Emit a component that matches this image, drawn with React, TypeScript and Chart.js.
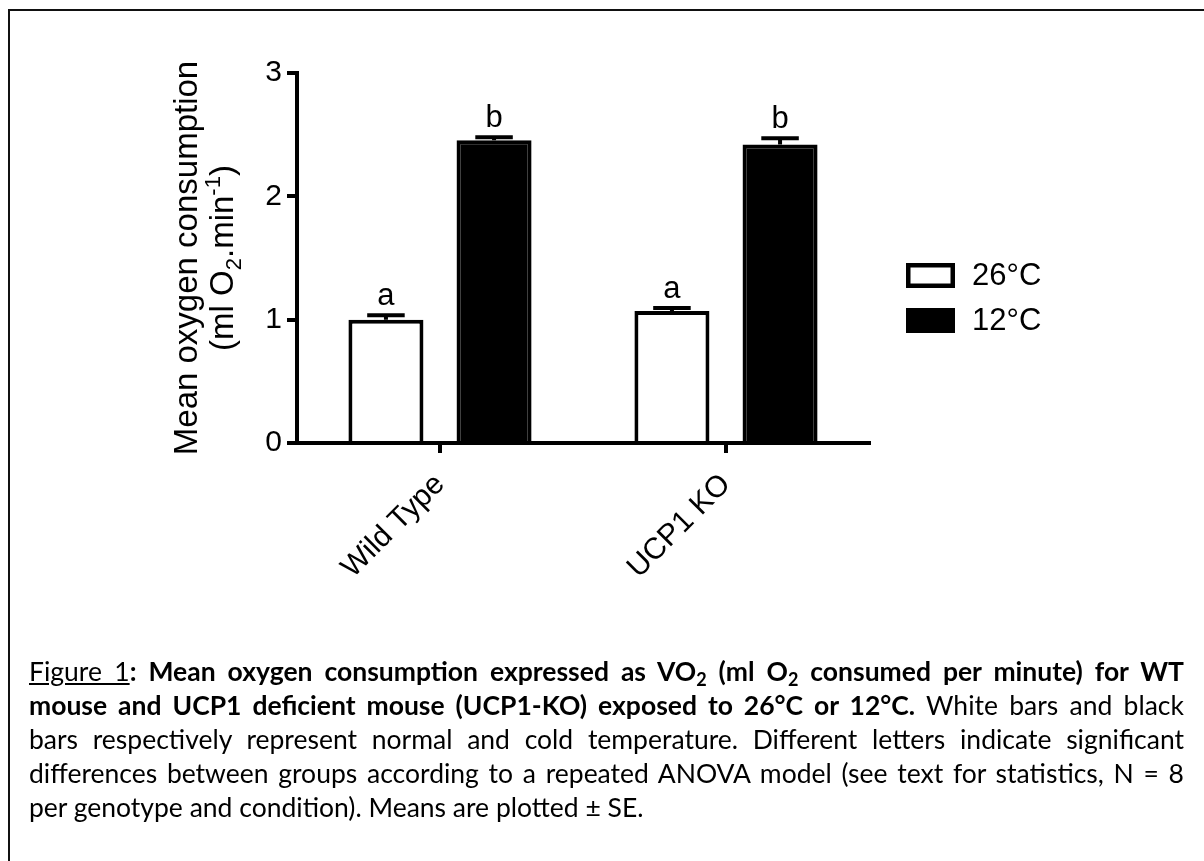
import React, { useEffect, useRef } from "react";
import { Chart, registerables } from "chart.js";

Chart.register(...registerables);

// ---- data ----
const categories = ["Wild Type", "UCP1 KO"];
const seriesLabels = ["26°C", "12°C"];
const warmMeans = [1.0, 1.07];
const coldMeans = [2.455, 2.42];
const warmSE = [0.035, 0.025];
const coldSE = [0.025, 0.05];
const warmLetters = ["a", "a"];
const coldLetters = ["b", "b"];
const yMin = 0;
const yMax = 3;
const yStep = 1;
const yTitleLine1 = "Mean oxygen consumption";
const yTitleLine2 = [
  { t: "(ml O", k: "n" },
  { t: "2", k: "sub" },
  { t: ".min", k: "n" },
  { t: "-1", k: "sup" },
  { t: ")", k: "n" },
];

const FONT = "'Liberation Sans', Arial, Helvetica, sans-serif";
const LW = 4;

const annotPlugin = {
  id: "annot",
  afterDatasetsDraw(chart: any) {
    const ctx = chart.ctx;
    const ys = chart.scales.y;
    chart.data.datasets.forEach((ds: any, i: number) => {
      const meta = chart.getDatasetMeta(i);
      meta.data.forEach((bar: any, j: number) => {
        const v = ds.data[j];
        const se = ds.se[j];
        const x = bar.x;
        const w = bar.width;
        const yv = ys.getPixelForValue(v);
        const yt = ys.getPixelForValue(v + se);
        ctx.save();
        ctx.strokeStyle = "#000";
        ctx.lineWidth = LW;
        ctx.beginPath();
        ctx.moveTo(x, yv);
        ctx.lineTo(x, yt);
        ctx.moveTo(x - w / 4, yt);
        ctx.lineTo(x + w / 4, yt);
        ctx.stroke();
        ctx.fillStyle = "#000";
        ctx.font = `31px ${FONT}`;
        ctx.textAlign = "center";
        ctx.textBaseline = "alphabetic";
        ctx.fillText(ds.letters[j], x, yt - 10);
        ctx.restore();
      });
    });
  },
  afterDraw(chart: any) {
    const ctx = chart.ctx;
    const area = chart.chartArea;
    // legend
    chart.data.datasets.forEach((ds: any, i: number) => {
      const bx = 906;
      const by = 263 + i * 45;
      const bw = 49;
      const bh = 25;
      ctx.save();
      if (ds.backgroundColor === "#000") {
        ctx.fillStyle = "#000";
        ctx.fillRect(bx, by, bw, bh);
      } else {
        ctx.fillStyle = "#fff";
        ctx.fillRect(bx, by, bw, bh);
        ctx.strokeStyle = "#000";
        ctx.lineWidth = 4.5;
        ctx.strokeRect(bx + 2.25, by + 2.25, bw - 4.5, bh - 4.5);
      }
      ctx.fillStyle = "#000";
      ctx.font = `31px ${FONT}`;
      ctx.textAlign = "left";
      ctx.textBaseline = "middle";
      ctx.fillText(ds.label, 972, by + bh / 2 + 1);
      ctx.restore();
    });
    // y axis title
    const cy = (area.top + area.bottom) / 2;
    ctx.save();
    ctx.fillStyle = "#000";
    ctx.translate(197, cy);
    ctx.rotate(-Math.PI / 2);
    ctx.font = `33px ${FONT}`;
    ctx.textAlign = "center";
    ctx.textBaseline = "alphabetic";
    ctx.fillText(yTitleLine1, 0, 0);
    ctx.restore();

    ctx.save();
    ctx.fillStyle = "#000";
    ctx.translate(233, cy);
    ctx.rotate(-Math.PI / 2);
    ctx.textAlign = "left";
    ctx.textBaseline = "alphabetic";
    const big = `33px ${FONT}`;
    const small = `22px ${FONT}`;
    let total = 0;
    yTitleLine2.forEach((p) => {
      ctx.font = p.k === "n" ? big : small;
      total += ctx.measureText(p.t).width;
    });
    let x = -total / 2;
    yTitleLine2.forEach((p) => {
      ctx.font = p.k === "n" ? big : small;
      const dy = p.k === "sub" ? 8 : p.k === "sup" ? -13 : 0;
      ctx.fillText(p.t, x, dy);
      x += ctx.measureText(p.t).width;
    });
    ctx.restore();
  },
};

export default function App() {
  const ref = useRef<HTMLCanvasElement>(null);

  useEffect(() => {
    const chart = new Chart(ref.current as HTMLCanvasElement, {
      type: "bar",
      data: {
        labels: categories,
        datasets: [
          {
            label: seriesLabels[0],
            data: warmMeans,
            se: warmSE,
            letters: warmLetters,
            backgroundColor: "#fff",
            borderColor: "#000",
            borderWidth: LW,
            borderSkipped: "start",
            categoryPercentage: 0.756,
            barPercentage: 0.694,
          } as any,
          {
            label: seriesLabels[1],
            data: coldMeans,
            se: coldSE,
            letters: coldLetters,
            backgroundColor: "#000",
            borderColor: "#000",
            borderWidth: LW,
            borderSkipped: "start",
            categoryPercentage: 0.756,
            barPercentage: 0.694,
          } as any,
        ],
      },
      options: {
        animation: false,
        responsive: false,
        maintainAspectRatio: false,
        devicePixelRatio: 1,
        layout: { padding: { left: 0, top: 73, right: 335, bottom: 0 } },
        plugins: {
          legend: { display: false },
          tooltip: { enabled: false },
          title: { display: false },
        },
        scales: {
          x: {
            type: "category",
            offset: true,
            grid: {
              display: true,
              drawOnChartArea: false,
              drawTicks: true,
              tickLength: 10,
              lineWidth: LW,
              color: "#000",
              offset: false,
            },
            border: { display: true, width: LW, color: "#000" },
            ticks: {
              color: "#000",
              font: { family: FONT, size: 30 },
              minRotation: 45,
              maxRotation: 45,
              padding: 14,
            },
            afterFit: (s: any) => {
              s.height = 197;
            },
          } as any,
          y: {
            min: yMin,
            max: yMax,
            ticks: {
              stepSize: yStep,
              color: "#000",
              font: { family: FONT, size: 30 },
              padding: 5,
            },
            grid: {
              display: true,
              drawOnChartArea: false,
              drawTicks: true,
              tickLength: 10,
              lineWidth: LW,
              color: "#000",
            },
            border: { display: true, width: LW, color: "#000" },
            afterFit: (s: any) => {
              s.width = 297;
            },
          } as any,
        },
      },
      plugins: [annotPlugin],
    });
    return () => chart.destroy();
  }, []);

  const lineJ: React.CSSProperties = {
    textAlign: "justify",
    textAlignLast: "justify",
    whiteSpace: "nowrap",
  };
  const sub: React.CSSProperties = {
    fontSize: "0.68em",
    verticalAlign: "-0.25em",
    lineHeight: 0,
  };

  return (
    <>
      <div
        style={{
          position: "fixed",
          left: 8,
          top: 9,
          width: 1400,
          height: 1000,
          border: "2px solid #111",
          boxSizing: "border-box",
        }}
      />
      <canvas
        ref={ref}
        width={1204}
        height={640}
        style={{ position: "fixed", left: 0, top: 0, width: 1204, height: 640 }}
      />
      <div
        style={{
          position: "fixed",
          left: 29,
          top: 654,
          width: 1155,
          fontFamily: "Lato, 'Open Sans', sans-serif",
          fontSize: 26.5,
          lineHeight: "34px",
          color: "#000",
        }}
      >
        <div style={lineJ}>
          <u>Figure 1</u>
          <b>
            : Mean oxygen consumption expressed as VO<sub style={sub}>2</sub> (ml O
            <sub style={sub}>2</sub> consumed per minute) for WT
          </b>
        </div>
        <div style={lineJ}>
          <b>mouse and UCP1 deficient mouse (UCP1-KO) exposed to 26°C or 12°C.</b> White bars and black
        </div>
        <div style={lineJ}>
          bars respectively represent normal and cold temperature. Different letters indicate significant
        </div>
        <div style={lineJ}>
          differences between groups according to a repeated ANOVA model (see text for statistics, N = 8
        </div>
        <div style={{ textAlign: "left", whiteSpace: "nowrap" }}>
          per genotype and condition). Means are plotted ± SE.
        </div>
      </div>
    </>
  );
}
